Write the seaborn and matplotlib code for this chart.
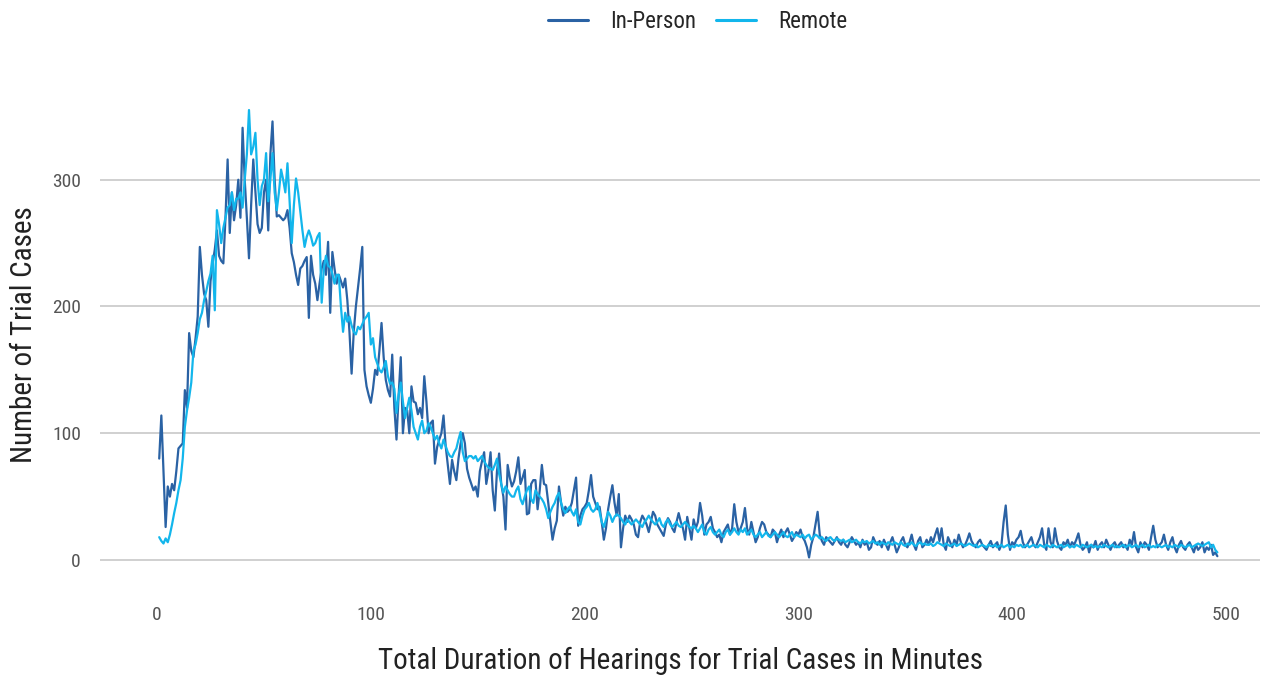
import numpy as np
import pandas as pd
import matplotlib
matplotlib.use("Agg")
import matplotlib.pyplot as plt
import seaborn as sns
from matplotlib import font_manager

minutes = list(range(1, 497))

in_person = [
    80, 114, 70, 26, 58, 50, 60, 55, 70, 88,
    90, 92, 134, 120, 179, 165, 160, 175, 192, 247,
    225, 210, 205, 184, 220, 234, 245, 260, 240, 236,
    234, 270, 316, 258, 290, 268, 280, 300, 270, 341,
    300, 270, 238, 280, 316, 290, 265, 258, 262, 290,
    300, 260, 320, 346, 300, 271, 272, 270, 268, 270,
    276, 262, 242, 235, 225, 217, 230, 232, 236, 239,
    191, 240, 225, 218, 205, 218, 230, 236, 225, 251,
    195, 243, 230, 218, 225, 220, 215, 222, 205, 180,
    147, 180, 200, 215, 230, 247, 150, 137, 130, 124,
    135, 150, 146, 165, 187, 160, 142, 134, 129, 162,
    120, 95, 130, 160, 100, 120, 118, 100, 137, 125,
    124, 115, 120, 112, 145, 125, 100, 108, 110, 76,
    89, 95, 100, 114, 90, 75, 60, 79, 70, 63,
    80, 92, 100, 92, 72, 65, 60, 55, 58, 50,
    70, 78, 85, 60, 70, 85, 55, 39, 70, 84,
    60, 50, 24, 75, 65, 58, 62, 70, 81, 60,
    65, 71, 36, 37, 60, 63, 63, 40, 55, 75,
    60, 59, 45, 30, 16, 25, 31, 58, 45, 35,
    42, 38, 40, 45, 55, 65, 27, 35, 40, 42,
    45, 55, 67, 50, 45, 40, 42, 30, 16, 25,
    40, 50, 59, 45, 35, 52, 10, 25, 35, 30,
    35, 32, 28, 20, 18, 30, 35, 32, 28, 22,
    30, 38, 35, 28, 25, 22, 19, 28, 33, 30,
    25, 22, 30, 37, 30, 25, 16, 34, 25, 16,
    32, 25, 30, 45, 35, 20, 28, 30, 34, 25,
    22, 18, 20, 14, 22, 25, 28, 20, 25, 44,
    30, 22, 25, 30, 41, 25, 20, 30, 22, 14,
    18, 25, 30, 28, 22, 20, 18, 24, 22, 14,
    20, 24, 18, 22, 25, 20, 15, 18, 22, 20,
    24, 18, 15, 10, 2, 12, 18, 28, 38, 20,
    15, 12, 18, 16, 14, 12, 15, 18, 14, 12,
    16, 12, 10, 14, 18, 15, 12, 14, 10, 16,
    12, 14, 8, 10, 18, 14, 12, 15, 10, 16,
    12, 8, 14, 18, 12, 6, 10, 15, 18, 12,
    10, 14, 20, 12, 8, 15, 18, 10, 12, 16,
    12, 18, 14, 20, 25, 15, 25, 12, 8, 18,
    14, 10, 16, 12, 20, 14, 10, 12, 16, 21,
    15, 12, 10, 14, 16, 12, 10, 8, 12, 15,
    10, 12, 14, 8, 12, 30, 43, 20, 8, 14,
    12, 16, 18, 23, 14, 10, 12, 15, 18, 12,
    10, 14, 18, 25, 12, 8, 25, 14, 10, 25,
    15, 10, 8, 14, 12, 16, 10, 14, 12, 16,
    21, 12, 8, 10, 14, 6, 12, 10, 15, 8,
    12, 14, 10, 16, 12, 8, 12, 14, 10, 12,
    14, 10, 12, 8, 16, 12, 22, 10, 6, 14,
    10, 14, 12, 8, 18, 27, 16, 10, 12, 14,
    20, 12, 8, 14, 18, 10, 6, 12, 15, 10,
    8, 12, 14, 10, 6, 12, 8, 10, 14, 6,
    10, 8, 12, 4, 6, 3,
]

remote = [
    18, 15, 13, 17, 14, 20, 28, 37, 45, 55,
    63, 80, 105, 118, 128, 140, 165, 170, 179, 190,
    195, 205, 212, 220, 226, 240, 197, 276, 265, 250,
    262, 270, 278, 280, 290, 276, 285, 285, 290, 278,
    300, 320, 355, 320, 326, 337, 300, 280, 295, 300,
    321, 283, 300, 321, 290, 276, 290, 308, 300, 290,
    313, 283, 250, 280, 301, 290, 275, 260, 247, 255,
    260, 255, 248, 250, 255, 258, 203, 230, 240, 232,
    231, 226, 218, 225, 225, 200, 180, 195, 188, 192,
    185, 180, 178, 184, 182, 186, 190, 192, 195, 170,
    175, 160, 155, 150, 148, 152, 157, 145, 139, 140,
    135, 116, 130, 140, 125, 112, 120, 128, 118, 105,
    100, 95, 105, 110, 100, 102, 108, 105, 100, 95,
    98, 92, 88, 95, 90, 85, 82, 81, 85, 88,
    95, 101, 85, 78, 80, 82, 82, 80, 82, 78,
    80, 82, 78, 75, 73, 72, 71, 75, 80, 68,
    60, 53, 58, 55, 52, 50, 50, 55, 58, 48,
    44, 50, 55, 58, 48, 45, 55, 52, 50, 48,
    45, 40, 33, 38, 42, 45, 50, 53, 45, 40,
    37, 40, 42, 38, 35, 40, 30, 28, 35, 40,
    42, 45, 40, 38, 40, 45, 38, 30, 26, 32,
    38, 35, 30, 34, 36, 35, 33, 30, 28, 32,
    30, 28, 30, 32, 30, 28, 26, 30, 32, 35,
    32, 30, 28, 30, 33, 28, 26, 30, 32, 28,
    26, 28, 30, 27, 26, 28, 30, 28, 26, 25,
    27, 25, 22, 25, 28, 22, 20, 24, 26, 22,
    20, 22, 24, 20, 18, 22, 24, 20, 22, 25,
    22, 20, 24, 22, 25, 20, 22, 24, 20, 18,
    20, 22, 18, 20, 22, 19, 18, 20, 22, 20,
    18, 20, 22, 19, 18, 20, 22, 18, 20, 19,
    18, 20, 17, 19, 20, 16, 18, 20, 19, 17,
    18, 16, 15, 17, 18, 16, 15, 17, 16, 15,
    16, 14, 15, 16, 14, 15, 16, 14, 13, 15,
    14, 15, 13, 14, 15, 13, 14, 12, 14, 13,
    12, 14, 13, 12, 14, 13, 12, 14, 12, 11,
    13, 12, 14, 12, 11, 13, 14, 12, 13, 12,
    12, 13, 11, 12, 14, 13, 12, 11, 13, 12,
    11, 12, 13, 11, 12, 13, 12, 11, 12, 13,
    12, 11, 12, 10, 11, 12, 11, 10, 12, 11,
    11, 12, 10, 11, 12, 10, 11, 12, 10, 11,
    10, 12, 11, 12, 10, 11, 12, 10, 11, 12,
    11, 10, 12, 11, 10, 12, 11, 10, 12, 11,
    10, 11, 12, 10, 11, 12, 10, 11, 10, 12,
    11, 10, 12, 11, 10, 11, 12, 10, 11, 10,
    11, 10, 12, 11, 10, 11, 12, 10, 11, 10,
    11, 12, 10, 11, 12, 10, 11, 12, 10, 11,
    12, 10, 11, 12, 10, 11, 10, 12, 11, 10,
    11, 12, 10, 11, 10, 12, 11, 10, 12, 11,
    10, 11, 12, 10, 11, 12, 13, 12, 11, 12,
    13, 14, 10, 12, 8, 6,
]

series_names = ["In-Person", "Remote"]
colors = ["#2a62a4", "#12b6ec"]
x_ticks = [0, 100, 200, 300, 400, 500]
y_ticks = [0, 100, 200, 300]

df = pd.concat([
    pd.DataFrame({"minute": minutes, "cases": in_person, "mode": series_names[0]}),
    pd.DataFrame({"minute": minutes, "cases": remote, "mode": series_names[1]}),
])

sns.set_theme(style="white")
installed = {f.name for f in font_manager.fontManager.ttflist}
fams = [f for f in ["Liberation Sans Narrow", "Roboto Condensed", "Liberation Sans"] if f in installed]
plt.rcParams["font.family"] = fams + ["DejaVu Sans"]

fig = plt.figure(figsize=(12.61, 6.76), dpi=100)
ax = fig.add_axes([0.0793, 0.139, 0.92, 0.732])

sns.lineplot(data=df, x="minute", y="cases", hue="mode", palette=colors,
             linewidth=1.6, ax=ax, legend=True)

ax.set_xlim(-26.7, 516)
ax.set_ylim(-17.4, 373)
ax.set_xticks(x_ticks)
ax.set_yticks(y_ticks)
ax.yaxis.grid(True, color="#d0d0d0", linewidth=1.4)
ax.xaxis.grid(False)
for s in ax.spines.values():
    s.set_visible(False)
ax.tick_params(axis="both", length=0, labelsize=14, colors="#555555")
ax.tick_params(axis="x", pad=17)
ax.tick_params(axis="y", pad=13.7)
ax.set_xlabel("Total Duration of Hearings for Trial Cases in Minutes", fontsize=21, color="#222222", labelpad=17)
ax.set_ylabel("Number of Trial Cases", fontsize=21, color="#222222", labelpad=10)

handles, labels = ax.get_legend_handles_labels()
ax.get_legend().remove()
leg = fig.legend(handles, labels, loc="center", bbox_to_anchor=(0.553, 1 - 22 / 676),
                 ncol=2, frameon=False, fontsize=16.5, handlelength=1.75, columnspacing=0.87,
                 handletextpad=0.96)
for line in leg.get_lines():
    line.set_linewidth(2.2)

fig.savefig("out.png", dpi=100)
